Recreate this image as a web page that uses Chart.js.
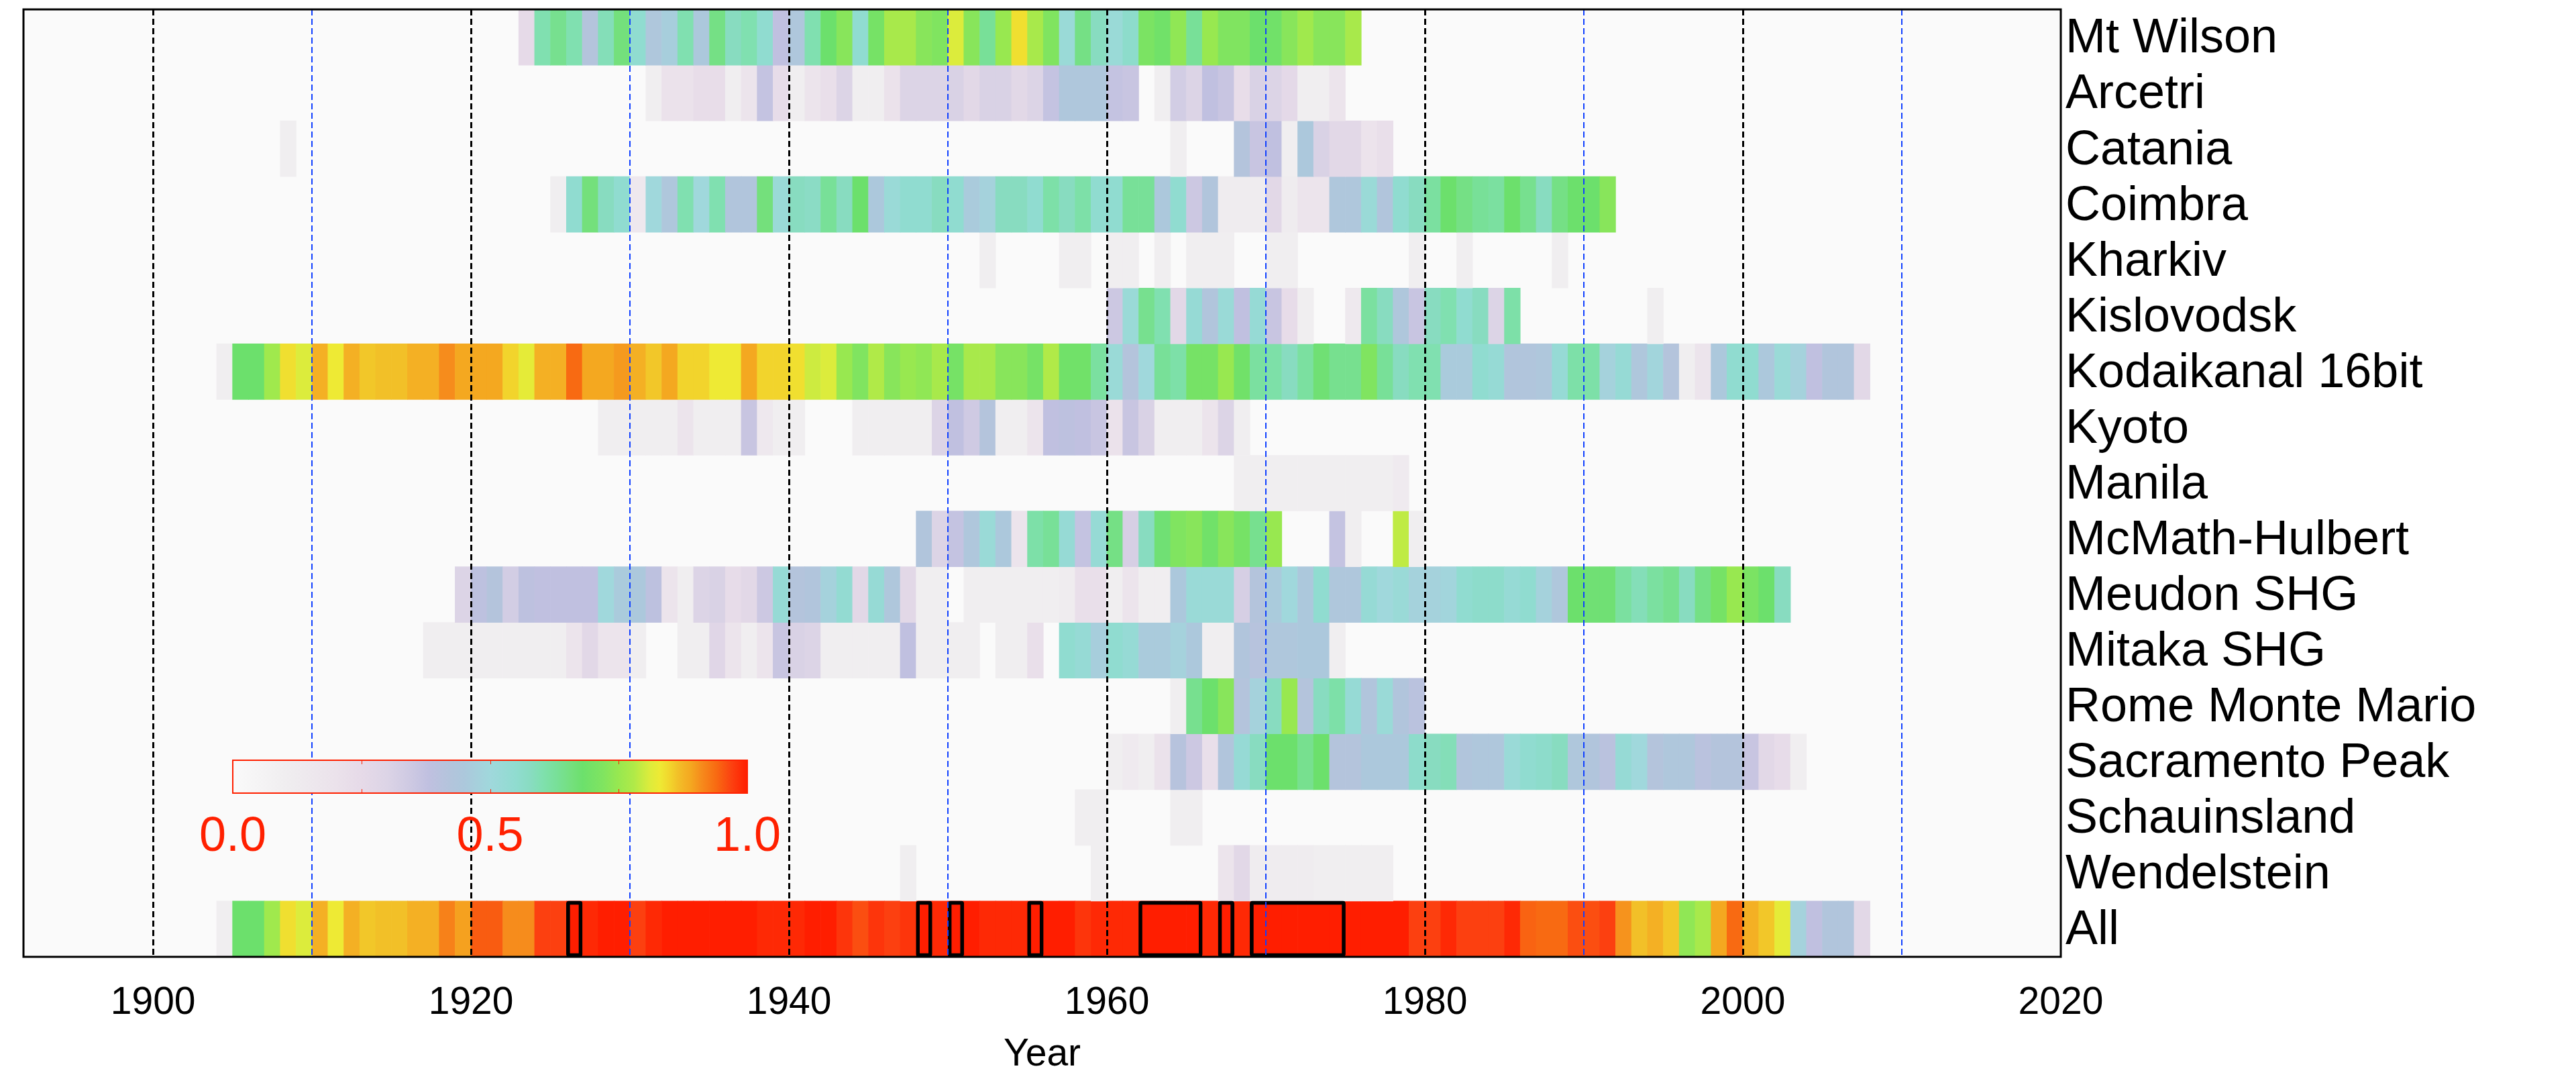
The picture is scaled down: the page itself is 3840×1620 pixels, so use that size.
<!DOCTYPE html>
<html>
<head>
<meta charset="utf-8">
<script src="https://cdn.jsdelivr.net/npm/chart.js@4.4.1/dist/chart.umd.min.js"></script>
<style>
  html, body { margin: 0; padding: 0; background: #fff; }
  canvas { display: block; }
</style>
</head>
<body>
<canvas id="hmChart" width="3840" height="1620"></canvas>
<script>
const stations = ['Mt Wilson', 'Arcetri', 'Catania', 'Coimbra', 'Kharkiv', 'Kislovodsk',
  'Kodaikanal 16bit', 'Kyoto', 'Manila', 'McMath-Hulbert', 'Meudon SHG', 'Mitaka SHG',
  'Rome Monte Mario', 'Sacramento Peak', 'Schauinsland', 'Wendelstein', 'All'];

const tickYears = [1900, 1910, 1920, 1930, 1940, 1950, 1960, 1970, 1980, 1990, 2000, 2010, 2020];
const colorbarLabels = ['0.0', '0.5', '1.0'];

// each row: list of [first year, one value per year]; a gap starts a new run
const mtWilson = [[1923, [0.25, 0.6, 0.64, 0.6, 0.42, 0.59, 0.66, 0.55, 0.44, 0.47,
  0.6, 0.45, 0.65, 0.58, 0.6, 0.55, 0.38, 0.44, 0.6, 0.68,
  0.73, 0.55, 0.7, 0.77, 0.77, 0.73, 0.72, 0.81, 0.73, 0.63,
  0.75, 0.84, 0.77, 0.72, 0.52, 0.65, 0.58, 0.52, 0.56, 0.71,
  0.69, 0.74, 0.63, 0.75, 0.72, 0.72, 0.68, 0.69, 0.73, 0.76,
  0.73, 0.73, 0.77]]];
const arcetri = [[1931, [0.1, 0.2, 0.2, 0.23, 0.23, 0.1, 0.18, 0.37, 0.24, 0.1,
  0.18, 0.22, 0.3, 0.1, 0.1, 0.2, 0.3, 0.3, 0.3, 0.31,
  0.27, 0.31, 0.31, 0.27, 0.3, 0.37, 0.44, 0.44, 0.44, 0.37, 0.36]],
  [1963, [0.1, 0.33, 0.3, 0.38, 0.36, 0.23, 0.31, 0.3, 0.26, 0.1, 0.1, 0.18]]];
const catania = [[1908, [0.1]], [1964, [0.1]],
  [1968, [0.42, 0.36, 0.38, 0.1, 0.45, 0.31, 0.27, 0.27, 0.19, 0.22]]];
const coimbra = [[1925, [0.1, 0.55, 0.66, 0.58, 0.55, 0.15, 0.5, 0.44, 0.6, 0.5,
  0.6, 0.43, 0.43, 0.66, 0.52, 0.58, 0.57, 0.63, 0.58, 0.68,
  0.45, 0.52, 0.55, 0.55, 0.58, 0.55, 0.46, 0.48, 0.58, 0.58,
  0.55, 0.61, 0.58, 0.61, 0.55, 0.55, 0.63, 0.63, 0.45, 0.55,
  0.35, 0.43, 0.12, 0.12, 0.12, 0.27, 0.12, 0.18, 0.18, 0.44,
  0.44, 0.52, 0.43, 0.55, 0.58, 0.62, 0.68, 0.65, 0.63, 0.62,
  0.68, 0.64, 0.58, 0.65, 0.68, 0.68, 0.73]]];
const kharkiv = [[1952, [0.1]], [1957, [0.1, 0.1]], [1960, [0.1, 0.1]], [1963, [0.1]],
  [1965, [0.1, 0.1, 0.1]], [1970, [0.1, 0.1]], [1979, [0.1]], [1982, [0.1]], [1988, [0.1]]];
const kislovodsk = [[1960, [0.35, 0.52, 0.64, 0.6, 0.27, 0.53, 0.43, 0.52, 0.38, 0.53, 0.36, 0.24, 0.1]],
  [1975, [0.14, 0.62, 0.58, 0.44, 0.36, 0.58, 0.6, 0.55, 0.58, 0.3, 0.61]], [1994, [0.1]]];
const kodaikanal = [[1904, [0.1, 0.68, 0.68, 0.76, 0.84, 0.81, 0.88, 0.83, 0.88, 0.86,
  0.865, 0.865, 0.88, 0.88, 0.91, 0.89, 0.89, 0.89, 0.85, 0.82,
  0.88, 0.88, 0.94, 0.89, 0.89, 0.9, 0.88, 0.86, 0.89, 0.85,
  0.85, 0.83, 0.83, 0.89, 0.85, 0.85, 0.84, 0.8, 0.81, 0.75,
  0.72, 0.78, 0.73, 0.75, 0.74, 0.77, 0.7, 0.77, 0.77, 0.73,
  0.73, 0.7, 0.78, 0.69, 0.69, 0.62, 0.52, 0.42, 0.5, 0.63,
  0.61, 0.7, 0.7, 0.75, 0.69, 0.62, 0.61, 0.58, 0.62, 0.67,
  0.64, 0.64, 0.72, 0.63, 0.58, 0.6, 0.6, 0.46, 0.46, 0.55,
  0.53, 0.43, 0.43, 0.44, 0.53, 0.61, 0.61, 0.48, 0.53, 0.44,
  0.49, 0.42, 0.1, 0.18, 0.45, 0.55, 0.55, 0.45, 0.52, 0.48,
  0.38, 0.43, 0.43, 0.27]]];
const kyoto = [[1928, [0.1, 0.1, 0.1, 0.1, 0.1, 0.18, 0.1, 0.1, 0.1, 0.36, 0.15, 0.1, 0.1]],
  [1944, [0.1, 0.1, 0.1, 0.1, 0.1, 0.3, 0.38, 0.34, 0.42, 0.1,
    0.1, 0.18, 0.38, 0.39, 0.38, 0.36, 0.2, 0.36, 0.31, 0.1,
    0.1, 0.1, 0.18, 0.3, 0.1]]];
const manila = [[1968, [0.1, 0.1, 0.1, 0.1, 0.1, 0.1, 0.1, 0.1, 0.1, 0.1, 0.13]]];
const mcmath = [[1948, [0.43, 0.3, 0.37, 0.44, 0.52, 0.45, 0.18, 0.61, 0.63, 0.53,
  0.37, 0.53, 0.65, 0.32, 0.58, 0.67, 0.72, 0.73, 0.69, 0.73,
  0.7, 0.64, 0.75]], [1974, [0.37, 0.1]], [1978, [0.79, 0.1]]];
const meudon = [[1919, [0.3, 0.39, 0.42, 0.33, 0.39, 0.38, 0.38, 0.38, 0.38, 0.5,
  0.46, 0.45, 0.39, 0.18, 0.1, 0.3, 0.31, 0.24, 0.27, 0.35,
  0.53, 0.42, 0.43, 0.48, 0.54, 0.27, 0.53, 0.44, 0.27, 0.1, 0.1]],
  [1951, [0.1, 0.1, 0.1, 0.1, 0.1, 0.1, 0.12, 0.22, 0.22, 0.1,
    0.18, 0.1, 0.1, 0.45, 0.52, 0.52, 0.52, 0.32, 0.42, 0.46,
    0.5, 0.45, 0.55, 0.44, 0.44, 0.53, 0.5, 0.52, 0.48, 0.48,
    0.49, 0.55, 0.56, 0.56, 0.53, 0.55, 0.48, 0.44, 0.68, 0.67,
    0.67, 0.62, 0.59, 0.62, 0.64, 0.58, 0.65, 0.7, 0.75, 0.71,
    0.68, 0.58]]];
const mitaka = [[1917, [0.1, 0.1, 0.1, 0.1, 0.1, 0.1, 0.1, 0.1, 0.1, 0.18, 0.27, 0.18, 0.18, 0.1]],
  [1933, [0.1, 0.1, 0.28, 0.18, 0.1, 0.18, 0.36, 0.31, 0.3, 0.1,
    0.1, 0.1, 0.1, 0.1, 0.38, 0.1, 0.1, 0.1, 0.1]],
  [1953, [0.1, 0.1, 0.22]],
  [1957, [0.55, 0.53, 0.47, 0.55, 0.53, 0.46, 0.46, 0.48, 0.45, 0.1,
    0.1, 0.43, 0.41, 0.44, 0.44, 0.45, 0.45, 0.1]]];
const rome = [[1964, [0.1, 0.64, 0.68, 0.73, 0.42, 0.48, 0.58, 0.75, 0.42, 0.58,
  0.61, 0.53, 0.43, 0.52, 0.43, 0.4]]];
const sacramento = [[1960, [0.1, 0.13, 0.1, 0.2, 0.41, 0.35, 0.22, 0.43, 0.53, 0.58,
  0.68, 0.68, 0.64, 0.68, 0.42, 0.42, 0.45, 0.45, 0.45, 0.56,
  0.58, 0.59, 0.43, 0.44, 0.44, 0.52, 0.55, 0.56, 0.58, 0.44,
  0.43, 0.4, 0.53, 0.5, 0.42, 0.44, 0.44, 0.4, 0.42, 0.42,
  0.36, 0.27, 0.24, 0.1]]];
const schauinsland = [[1958, [0.1, 0.1]], [1964, [0.1, 0.1]]];
const wendelstein = [[1947, [0.1]], [1959, [0.1]],
  [1967, [0.18, 0.27, 0.12, 0.12, 0.12, 0.12, 0.1, 0.1, 0.1, 0.1, 0.1]]];
const allSites = [[1904, [0.1, 0.68, 0.68, 0.76, 0.84, 0.81, 0.88, 0.83, 0.88, 0.86,
  0.865, 0.865, 0.88, 0.88, 0.92, 0.895, 0.95, 0.95, 0.91, 0.91,
  0.97, 0.97, 1.0, 0.99, 1.0, 1.0, 0.97, 0.99, 1.0, 1.0,
  1.0, 1.0, 1.0, 1.0, 0.99, 0.99, 0.99, 1.0, 1.0, 0.98,
  0.96, 0.98, 0.97, 0.98, 1.0, 0.99, 1.0, 1.0, 0.99, 0.99,
  0.99, 1.0, 1.0, 1.0, 0.98, 0.99, 0.99, 0.99, 1.0, 1.0,
  1.0, 1.0, 0.99, 1.0, 0.99, 1.0, 1.0, 1.0, 1.0, 1.0,
  1.0, 1.0, 1.0, 1.0, 1.0, 0.97, 0.97, 0.99, 0.97, 0.97,
  0.97, 0.99, 0.945, 0.94, 0.94, 0.96, 0.96, 0.97, 0.905, 0.865,
  0.88, 0.86, 0.74, 0.77, 0.89, 0.94, 0.88, 0.86, 0.82, 0.48,
  0.38, 0.43, 0.43, 0.27]]];

// outlined periods on the "All" row
const boxStart = [1926, 1948, 1950, 1955, 1962, 1967, 1969];
const boxEnd = [1927, 1949, 1951, 1956, 1966, 1968, 1975];

const rows = [mtWilson, arcetri, catania, coimbra, kharkiv, kislovodsk, kodaikanal, kyoto,
  manila, mcmath, meudon, mitaka, rome, sacramento, schauinsland, wendelstein, allSites];

// colour table
const cmapPos = [0, 0.1, 0.2, 0.25, 0.3, 0.35, 0.38, 0.42, 0.45, 0.5, 0.55, 0.58, 0.6, 0.63,
  0.66, 0.68, 0.72, 0.75, 0.78, 0.81, 0.83, 0.85, 0.865, 0.88, 0.89, 0.91, 0.94, 0.97, 1];
const cmapColor = ['#fafafa', '#f0eef0', '#ebe2eb', '#e6dae8', '#dcd4e6', '#ccc8e2', '#c0c0e0',
  '#b4c4dc', '#acc8dc', '#a0d8dc', '#90dcd0', '#88dcc0', '#80e0b0', '#78e098', '#74e07c',
  '#6ce06c', '#80e460', '#98e850', '#b0ea48', '#dcec3c', '#eeea34', '#f2d42c', '#f2c028',
  '#f4b024', '#f4a820', '#f68c1c', '#f86a12', '#fc4010', '#ff1e00'];

function hexToRgb(h) {
  const n = parseInt(h.slice(1), 16);
  return [n >> 16, (n >> 8) & 255, n & 255];
}

function colormap(v) {
  let i = 1;
  while (i < cmapPos.length - 1 && v > cmapPos[i]) i++;
  const t = Math.max(0, Math.min(1, (v - cmapPos[i - 1]) / (cmapPos[i] - cmapPos[i - 1])));
  const a = hexToRgb(cmapColor[i - 1]);
  const b = hexToRgb(cmapColor[i]);
  const c = a.map((x, k) => Math.round(x + (b[k] - x) * t));
  return `rgb(${c[0]}, ${c[1]}, ${c[2]})`;
}

function cells(runs, label) {
  const out = [];
  runs.forEach(([start, vals]) => {
    vals.forEach((v, i) => {
      if (v !== null) out.push({ x: [start + i, start + i + 1], y: label, v: v });
    });
  });
  return out;
}

const datasets = rows.map((runs, r) => {
  const data = cells(runs, stations[r]);
  return {
    data: data,
    backgroundColor: data.map(d => colormap(d.v)),
    borderWidth: 0,
    order: 1
  };
});

datasets.push({
  data: boxStart.map((s, i) => ({ x: [s, boxEnd[i]], y: 'All' })),
  backgroundColor: 'rgba(0,0,0,0)',
  borderColor: '#000',
  borderWidth: 5,
  borderSkipped: false,
  borderRadius: 4,
  order: -1
});

const plotDecor = {
  id: 'plotDecor',
  beforeDraw(chart) {
    const { ctx, chartArea: a } = chart;
    ctx.save();
    ctx.fillStyle = cmapColor[0];
    ctx.fillRect(a.left, a.top, a.right - a.left, a.bottom - a.top);
    ctx.restore();
  },
  afterDraw(chart) {
    const { ctx, chartArea: a } = chart;
    ctx.save();
    // colour bar legend
    const bx = 347, by = 1133, bw = 767, bh = 49;
    const g = ctx.createLinearGradient(bx, 0, bx + bw, 0);
    cmapPos.forEach((p, i) => g.addColorStop(p, cmapColor[i]));
    ctx.fillStyle = g;
    ctx.fillRect(bx, by, bw, bh);
    ctx.strokeStyle = '#ff2000';
    ctx.lineWidth = 2;
    ctx.strokeRect(bx, by, bw, bh);
    ctx.beginPath();
    [0.25, 0.5, 0.75].forEach(f => {
      const x = Math.round(bx + f * bw) + 0.5;
      ctx.moveTo(x, by); ctx.lineTo(x, by + 6);
      ctx.moveTo(x, by + bh); ctx.lineTo(x, by + bh - 6);
    });
    ctx.lineWidth = 1;
    ctx.stroke();
    ctx.fillStyle = '#ff2000';
    ctx.font = "72px 'Liberation Sans', Arial, sans-serif";
    ctx.textAlign = 'center';
    ctx.textBaseline = 'middle';
    colorbarLabels.forEach((t, i) => ctx.fillText(t, bx + bw * i / 2, 1248));
    // plot frame
    ctx.strokeStyle = '#000';
    ctx.lineWidth = 3;
    ctx.strokeRect(a.left, a.top, a.right - a.left, a.bottom - a.top);
    ctx.restore();
  }
};

Chart.defaults.font.family = "'Liberation Sans', Arial, sans-serif";
Chart.defaults.color = '#000';

const ctx = document.getElementById('hmChart').getContext('2d');

const hmChart = new Chart(ctx, {
  type: 'bar',
  data: { labels: stations, datasets: datasets },
  plugins: [plotDecor],
  options: {
    indexAxis: 'y',
    responsive: false,
    devicePixelRatio: 1,
    animation: false,
    layout: { padding: { left: 35, top: 14, right: 0, bottom: 0 } },
    datasets: {
      bar: { grouped: false, barPercentage: 1, categoryPercentage: 1 }
    },
    plugins: {
      legend: { display: false },
      tooltip: { enabled: false }
    },
    scales: {
      x: {
        type: 'linear',
        position: 'bottom',
        min: 1891.85,
        max: 2020,
        afterBuildTicks: axis => { axis.ticks = tickYears.map(v => ({ value: v })); },
        afterFit: axis => {
          axis.height = 194;
          axis.paddingLeft = 0;
          axis.paddingRight = 0;
        },
        ticks: {
          autoSkip: false,
          maxRotation: 0,
          padding: 35,
          color: '#000',
          font: { size: 57 },
          callback: v => (v % 20 === 0 ? String(v) : '')
        },
        grid: {
          z: 1,
          drawTicks: false,
          color: c => (c.tick.value >= 2020 ? 'rgba(0,0,0,0)' : (c.tick.value % 20 === 0 ? '#000' : '#1040ff')),
          lineWidth: c => (c.tick.value % 20 === 0 ? 3 : 2)
        },
        border: { display: false, dash: [9, 5] },
        title: {
          display: true,
          text: 'Year',
          color: '#000',
          font: { size: 57 },
          padding: { top: 0, bottom: 14 }
        }
      },
      y: {
        type: 'category',
        position: 'right',
        offset: true,
        afterFit: axis => {
          axis.width = 768;
          axis.paddingTop = 0;
          axis.paddingBottom = 0;
        },
        ticks: { color: '#000', padding: 7, autoSkip: false, labelOffset: 3, font: { size: 72 } },
        grid: { display: false, drawTicks: false },
        border: { display: false }
      }
    }
  }
});
</script>
</body>
</html>
